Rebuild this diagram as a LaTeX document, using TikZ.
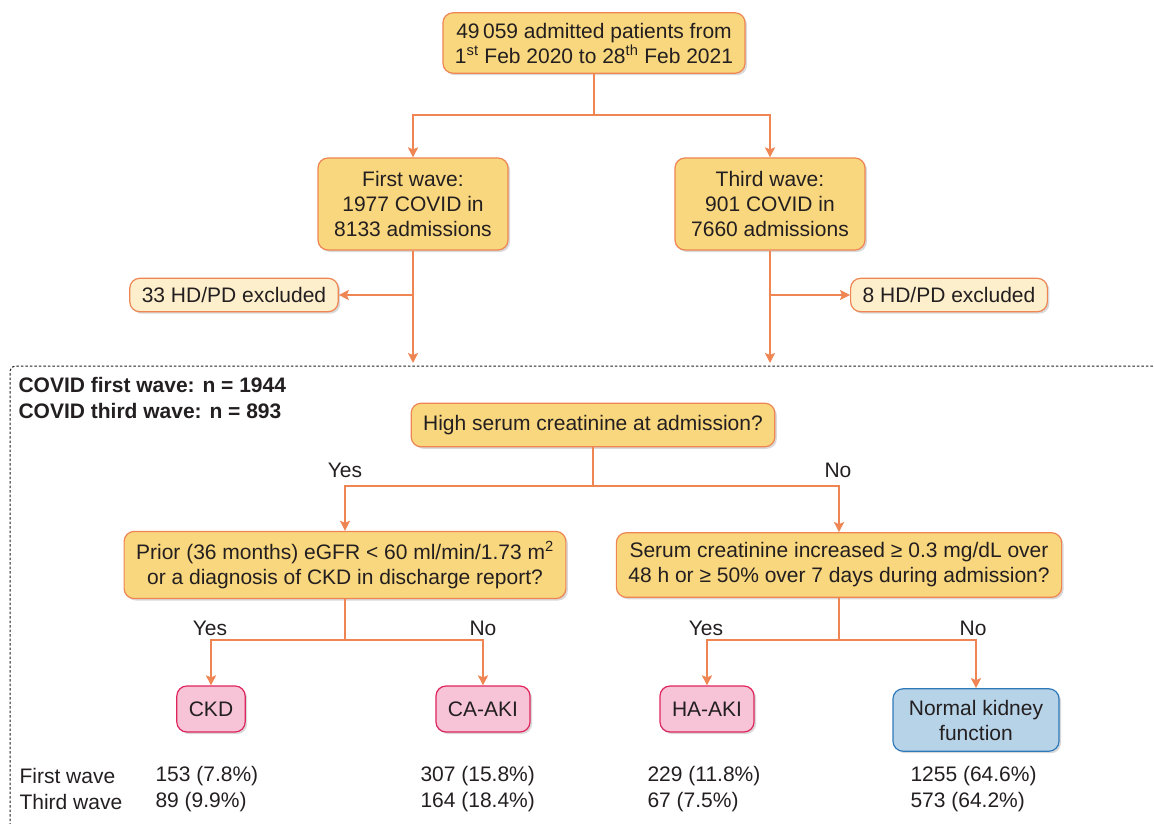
\documentclass[tikz,border=0pt]{standalone}
\usepackage{fontspec}
\setmainfont{Liberation Sans}
\usepackage{tikz}
\usetikzlibrary{arrows,arrows.meta,shapes,shadows}
\usepackage{xcolor}
\definecolor{fcyellow}{RGB}{249,215,126}
\definecolor{fcorange}{RGB}{238,133,83}
\definecolor{fccream}{RGB}{253,239,203}
\definecolor{fcpink}{RGB}{246,196,214}
\definecolor{fcred}{RGB}{224,36,94}
\definecolor{fcblue}{RGB}{183,211,232}
\definecolor{fcnavy}{RGB}{47,121,186}
\definecolor{fctext}{RGB}{35,31,32}
\tikzstyle{arrow} = [line width=2.2pt,-{Stealth[length=10pt,width=10pt,inset=2pt]},color=fcorange]
\tikzstyle{decision} = [draw=fcorange, line width=1.2pt, fill=fcyellow, rounded corners=10pt, align=center, inner xsep=12pt, inner ysep=10pt, text=fctext, drop shadow={opacity=0.3,shadow xshift=2pt,shadow yshift=-2pt}]
\tikzstyle{excluded} = [decision, fill=fccream, inner ysep=9pt]
\tikzstyle{outcome} = [decision, draw=fcred, fill=fcpink, minimum height=46pt]
\tikzstyle{normal} = [decision, draw=fcnavy, fill=fcblue, inner ysep=11pt, minimum width=166pt]
\tikzstyle{answer} = [text=fctext]
\tikzstyle{count} = [text=fctext, anchor=west]

\begin{document}
\begin{tikzpicture}[x=1pt, y=-1pt, font=\fontsize{21}{25}\selectfont]
\useasboundingbox (0,0) rectangle (1154,824);

% Cohort selection
\node[decision] (adm) at (594,43) {49\,059 admitted patients from\\1\textsuperscript{st} Feb 2020 to 28\textsuperscript{th} Feb 2021};
\node[decision, minimum width=190pt, minimum height=92pt] (fw) at (413,204) {First wave:\\1977 COVID in\\8133 admissions};
\node[decision, minimum width=190pt, minimum height=92pt] (tw) at (770,204) {Third wave:\\901 COVID in\\7660 admissions};
\node[excluded] (exf) at (234,295) {33 HD/PD excluded};
\node[excluded] (ext) at (949,295) {8 HD/PD excluded};

\coordinate (split) at (594,115);
\coordinate (fwin) at (413,363);
\coordinate (twin) at (770,363);
\draw[arrow] (adm) -- (split) -| (fw);
\draw[arrow] (split) -| (tw);
\draw[arrow] (fw) -- (fwin);
\draw[arrow] (tw) -- (twin);
\draw[arrow] (fw.south |- exf) -- (exf);
\draw[arrow] (tw.south |- ext) -- (ext);

% Study population
\draw[fctext, line width=1pt, dash pattern=on 2.5pt off 2pt, rounded corners=5pt] (10,830) -- (10,366) -- (1160,366);
\node[anchor=west, align=left, text=fctext, font=\fontsize{21}{26}\selectfont\bfseries] (pop) at (15,398) {COVID first wave: n = 1944\\COVID third wave: n = 893};

% Classification
\node[decision, inner ysep=12pt] (hsc) at (593,425) {High serum creatinine at admission?};
\node[decision] (prior) at (345,565) {Prior (36 months) eGFR < 60 ml/min/1.73 m\textsuperscript{2}\\or a diagnosis of CKD in discharge report?};
\node[decision] (rise) at (839,565) {Serum creatinine increased ≥ 0.3 mg/dL over\\48 h or ≥ 50\% over 7 days during admission?};

\coordinate (split2) at (593,486);
\draw[arrow] (hsc) -- (split2) -| (prior);
\draw[arrow] (split2) -| (rise);
\node[answer] (yes1) at (345,470) {Yes};
\node[answer] (no1) at (838,470) {No};

\node[outcome] (ckd) at (211,709) {CKD};
\node[outcome] (caaki) at (483,709) {CA-AKI};
\node[outcome] (haaki) at (707,709) {HA-AKI};
\node[normal] (nkf) at (976,720) {Normal kidney\\function};

\coordinate (split3) at (345,640);
\coordinate (split4) at (839,640);
\draw[arrow] (prior) -- (split3) -| (ckd);
\draw[arrow] (split3) -| (caaki);
\draw[arrow] (rise) -- (split4) -| (haaki);
\draw[arrow] (split4) -| (nkf);
\node[answer] (yes2) at (210,628) {Yes};
\node[answer] (no2) at (483,628) {No};
\node[answer] (yes3) at (706,628) {Yes};
\node[answer] (no3) at (973,628) {No};

% Counts per wave
\node[count] (lfw) at (16,776) {First wave};
\node[count] (ltw) at (16,802) {Third wave};
\node[count] at (152,776) {153 (7.8\%)};
\node[count] at (152,802) {89 (9.9\%)};
\node[count] at (417,776) {307 (15.8\%)};
\node[count] at (417,802) {164 (18.4\%)};
\node[count] at (644,776) {229 (11.8\%)};
\node[count] at (644,802) {67 (7.5\%)};
\node[count] at (907,776) {1255 (64.6\%)};
\node[count] at (907,802) {573 (64.2\%)};
\end{tikzpicture}
\end{document}
